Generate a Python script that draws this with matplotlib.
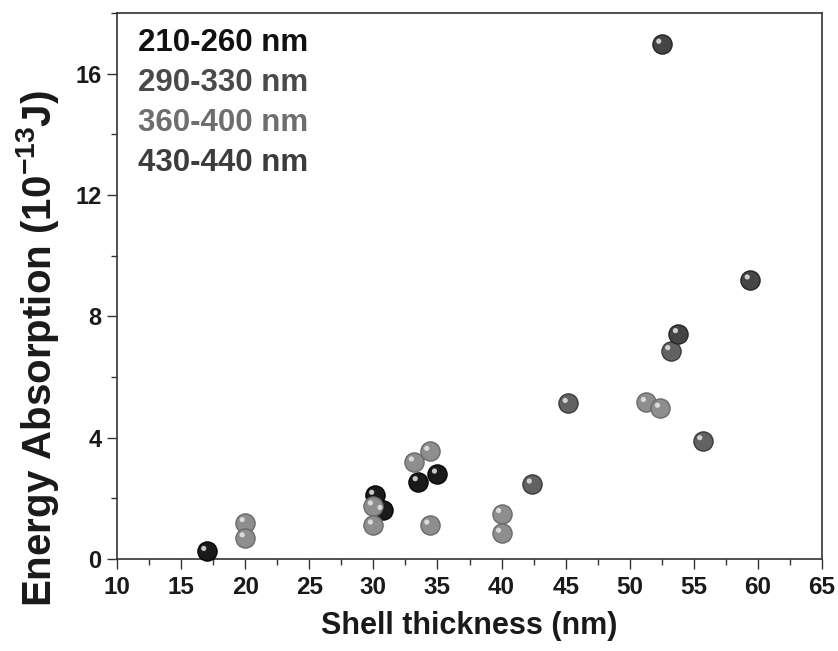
import matplotlib
matplotlib.use("Agg")
import matplotlib.pyplot as plt
import matplotlib.transforms as mtransforms
from matplotlib.ticker import MultipleLocator

plt.rcParams['font.family'] = ['Liberation Sans', 'DejaVu Sans']
plt.rcParams['font.weight'] = 'bold'
plt.rcParams['mathtext.fontset'] = 'custom'
plt.rcParams['mathtext.rm'] = 'Liberation Sans:bold'
plt.rcParams['mathtext.bf'] = 'Liberation Sans:bold'
plt.rcParams['mathtext.default'] = 'bf'

# ---- data ----
labels = ['210-260 nm', '290-330 nm', '360-400 nm', '430-440 nm']

x_210 = [17.0, 30.1, 30.75, 33.5, 35.0]
y_210 = [0.25, 2.1, 1.6, 2.55, 2.8]

x_290 = [42.4, 45.2, 53.2, 55.7]
y_290 = [2.47, 5.13, 6.87, 3.9]

x_360 = [20.0, 20.0, 30.0, 30.0, 33.2, 34.4, 34.4, 40.0, 40.0, 51.3, 52.4]
y_360 = [1.2, 0.7, 1.75, 1.12, 3.2, 3.55, 1.12, 1.5, 0.85, 5.16, 4.97]

x_430 = [52.5, 59.4, 53.8]
y_430 = [16.97, 9.2, 7.43]

xs = [x_210, x_290, x_360, x_430]
ys = [y_210, y_290, y_360, y_430]

marker_colors = ['#1a1a1a', '#626262', '#8e8e8e', '#454545']
edge_colors = ['#050505', '#3a3a3a', '#6a6a6a', '#252525']
text_colors = ['#111111', '#4a4a4a', '#6e6e6e', '#3c3c3c']

xticks = [10, 15, 20, 25, 30, 35, 40, 45, 50, 55, 60, 65]
yticks = [0, 4, 8, 12, 16]

# ---- figure ----
fig = plt.figure(figsize=(8.38, 6.51), dpi=100)
ax = fig.add_axes([117/838, 1 - 559/651, 705/838, 546/651])

hl = mtransforms.offset_copy(ax.transData, fig=fig, x=-3, y=3, units='dots')
for xv, yv, mc, ec in zip(xs, ys, marker_colors, edge_colors):
    ax.scatter(xv, yv, s=190, c=mc, edgecolors=ec, linewidths=1.0,
               zorder=3, clip_on=False)
    ax.scatter(xv, yv, s=14, c='#e8e8e8', edgecolors='none', alpha=0.85,
               transform=hl, zorder=4, clip_on=False)

ax.set_xlim(10, 65)
ax.set_ylim(0, 18)
ax.set_xticks(xticks)
ax.set_yticks(yticks)
ax.xaxis.set_minor_locator(MultipleLocator(2.5))
ax.yaxis.set_minor_locator(MultipleLocator(2))
ax.tick_params(which='major', direction='out', length=7, width=1.0,
               color='#333333', pad=4)
ax.tick_params(which='minor', direction='out', length=4, width=1.0,
               color='#333333')
ax.tick_params(axis='y', labelsize=17)
ax.tick_params(axis='x', labelsize=17.5, pad=5)
for lab in ax.get_xticklabels() + ax.get_yticklabels():
    lab.set_fontweight('bold')
    lab.set_color('#1a1a1a')

for sp in ax.spines.values():
    sp.set_linewidth(1.2)
    sp.set_color('#333333')

ax.set_xlabel('Shell thickness (nm)', fontsize=22, fontweight='bold',
              color='#1a1a1a', labelpad=9)
ax.set_ylabel('Energy Absorption (10$^{-13}$J)', fontsize=29,
              fontweight='bold', color='#1a1a1a')
ax.yaxis.set_label_coords(-0.079, 0.386)

ypos = [0.945, 0.872, 0.799, 0.725]
for lab, col, yy in zip(labels, text_colors, ypos):
    ax.text(0.03, yy, lab, transform=ax.transAxes, fontsize=22.5,
            fontweight='bold', color=col, va='center', ha='left')

fig.savefig('out.png', dpi=100)
